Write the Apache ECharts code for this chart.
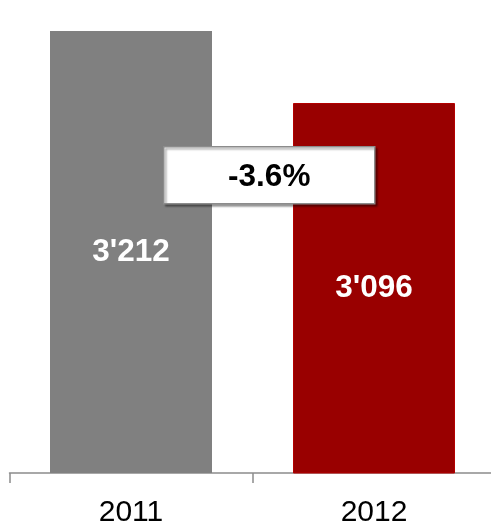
<!DOCTYPE html>
<html>
<head>
<meta charset="utf-8">
<script src="https://cdn.jsdelivr.net/npm/echarts@6/dist/echarts.min.js"></script>
<style>
  html, body { margin: 0; padding: 0; background: #ffffff; }
  #chart { width: 491px; height: 525px; }
</style>
</head>
<body>
<div id="chart"></div>
<script>
// Annual totals for the two years
const years = ['2011', '2012'];
const totals = [3212, 3096];
const barColors = ['#808080', '#990000'];
const barBorders = ['#808080', '#b40000'];

// Thousands separator written as an apostrophe, e.g. 3'212
function fmt(v) {
  return String(v).replace(/\B(?=(\d{3})+(?!\d))/g, "'");
}

// Year-over-year change shown in the callout box
const change = (totals[1] - totals[0]) / totals[0] * 100;
const changeText = (change > 0 ? '+' : '') + change.toFixed(1) + '%';

const FONT = '"Liberation Sans", Arial, sans-serif';

const chart = echarts.init(document.getElementById('chart'), null, { renderer: 'canvas' });

chart.setOption({
  animation: false,
  backgroundColor: '#ffffff',
  grid: { left: 9.5, width: 486, top: 31, bottom: 52, containLabel: false, outerBoundsMode: 'none' },
  xAxis: {
    type: 'category',
    data: years,
    axisLine: { show: true, lineStyle: { color: '#8c8c8c', width: 1.5 } },
    axisTick: { show: true, length: 10, lineStyle: { color: '#8c8c8c', width: 1.5 } },
    axisLabel: { color: '#000000', fontFamily: FONT, fontSize: 30, margin: 25 }
  },
  yAxis: {
    type: 'value',
    min: 2500,
    max: 3212,
    show: false,
    splitLine: { show: false }
  },
  series: [{
    type: 'bar',
    barWidth: 162,
    z: 2,
    data: totals.map((v, i) => ({
      value: v,
      itemStyle: { color: barColors[i], borderColor: barBorders[i], borderWidth: i === 1 ? 1 : 0 }
    })),
    label: {
      show: true,
      position: 'inside',
      color: '#ffffff',
      fontFamily: FONT,
      fontWeight: 'bold',
      fontSize: 31.5,
      formatter: p => fmt(p.value)
    }
  }],
  graphic: [{
    type: 'group',
    left: 163,
    top: 146,
    z: 100,
    children: [{
      type: 'rect',
      z: 100,
      shape: { x: 0, y: 0, width: 211, height: 57 },
      style: {
        fill: '#ffffff',
        stroke: '#8c8c8c',
        lineWidth: 1.5,
        shadowColor: 'rgba(0,0,0,0.35)',
        shadowOffsetX: 2,
        shadowOffsetY: 2,
        shadowBlur: 2
      }
    }, {
      type: 'text',
      z: 101,
      x: 105.5,
      y: 31,
      style: {
        text: changeText,
        fill: '#000000',
        font: 'bold 31.5px ' + FONT,
        textAlign: 'center',
        textVerticalAlign: 'middle'
      }
    }]
  }]
});
</script>
</body>
</html>
